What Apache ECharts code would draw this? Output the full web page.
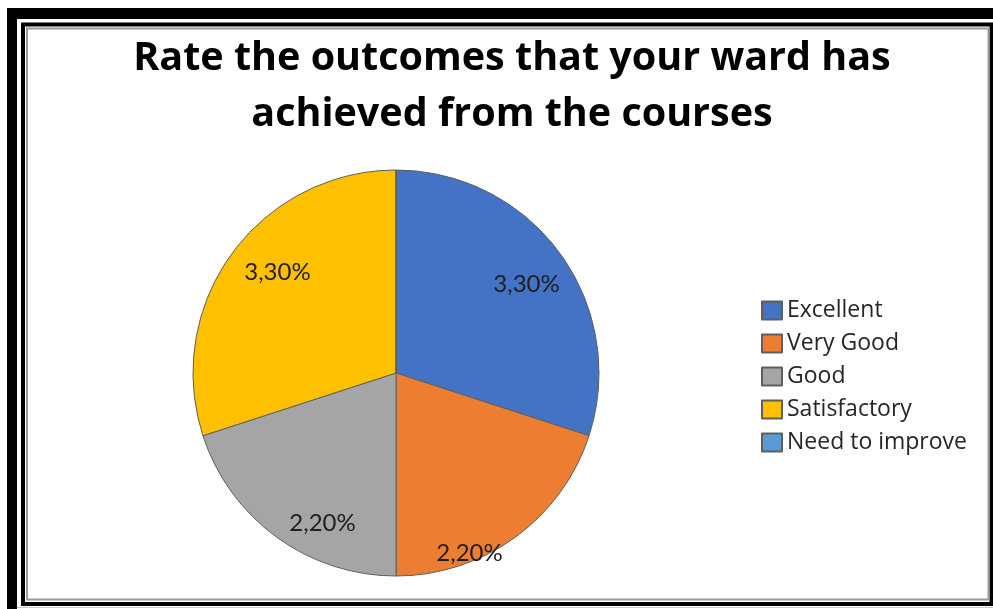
<!DOCTYPE html>
<html>
<head>
<meta charset="utf-8">
<script src="https://cdn.jsdelivr.net/npm/echarts@6/dist/echarts.min.js"></script>
<style>
  html, body { margin: 0; padding: 0; background: #ffffff; }
  #chart { width: 993px; height: 609px; }
</style>
</head>
<body>
<div id="chart"></div>
<script>
// Survey answers: how many respondents chose each rating
const categories = ['Excellent', 'Very Good', 'Good', 'Satisfactory', 'Need to improve'];
const counts = [3, 2, 2, 3, 0];
const sliceColors = ['#4472C4', '#ED7D31', '#A5A5A5', '#FFC000', '#5B9BD5'];
const titleLines = ['Rate the outcomes that your ward has', 'achieved from the courses'];

// Pie geometry and "best fit" label spots (offsets as a fraction of the radius)
const pieCenter = [396, 373];
const pieRadius = 203;
const labelSpots = [[0.643, -0.438], [0.362, 0.887], [-0.362, 0.739], [-0.584, -0.498], [0, 0]];

const chart = echarts.init(document.getElementById('chart'), null, { renderer: 'canvas' });

const frame = [
  // heavy outer frame (top and left)
  { type: 'rect', shape: { x: 7, y: 8, width: 986, height: 11 }, style: { fill: '#000' }, silent: true },
  { type: 'rect', shape: { x: 7, y: 8, width: 10, height: 601 }, style: { fill: '#000' }, silent: true },
  // faint line under the inner box
  { type: 'line', shape: { x1: 17, y1: 607.5, x2: 993, y2: 607.5 }, style: { stroke: '#c8c8c8', lineWidth: 1 }, silent: true },
  // inner box
  { type: 'rect', shape: { x: 23, y: 24.5, width: 968.5, height: 579.5 }, style: { fill: null, stroke: '#000', lineWidth: 4 }, silent: true },
  { type: 'rect', shape: { x: 27, y: 28.5, width: 961.5, height: 571 }, style: { fill: null, stroke: '#9a9a9a', lineWidth: 2 }, silent: true }
];

chart.setOption({
  backgroundColor: '#ffffff',
  animation: false,
  title: {
    text: titleLines.join('\n'),
    left: 512,
    top: 31,
    padding: 0,
    textAlign: 'center',
    textStyle: {
      fontFamily: 'Open Sans',
      fontWeight: 'bold',
      fontSize: 39.5,
      lineHeight: 56,
      color: '#000000'
    }
  },
  legend: {
    orient: 'vertical',
    left: 761,
    top: 299,
    padding: 0,
    icon: 'rect',
    itemWidth: 20,
    itemHeight: 18,
    itemGap: 10,
    selectedMode: false,
    data: categories,
    textStyle: {
      fontFamily: 'Open Sans',
      fontSize: 23,
      lineHeight: 22,
      color: '#262626'
    }
  },
  graphic: frame,
  series: [{
    type: 'pie',
    center: pieCenter,
    radius: pieRadius,
    startAngle: 90,
    clockwise: true,
    silent: true,
    emphasis: { disabled: true },
    itemStyle: { borderColor: '#5f5f5f', borderWidth: 1 },
    label: {
      show: true,
      position: 'inside',
      fontFamily: 'Lato',
      fontSize: 24,
      color: '#1f1f1f',
      formatter: (p) => p.value + ',' + Math.round(p.percent) + '%'
    },
    labelLine: { show: false },
    labelLayout: (p) => {
      const o = labelSpots[p.dataIndex];
      return {
        x: pieCenter[0] + o[0] * pieRadius,
        y: pieCenter[1] + o[1] * pieRadius,
        align: 'center',
        verticalAlign: 'middle'
      };
    },
    data: categories.map((name, i) => ({
      name: name,
      value: counts[i],
      itemStyle: { color: sliceColors[i] },
      label: { show: counts[i] > 0 }
    }))
  }]
});
</script>
</body>
</html>
